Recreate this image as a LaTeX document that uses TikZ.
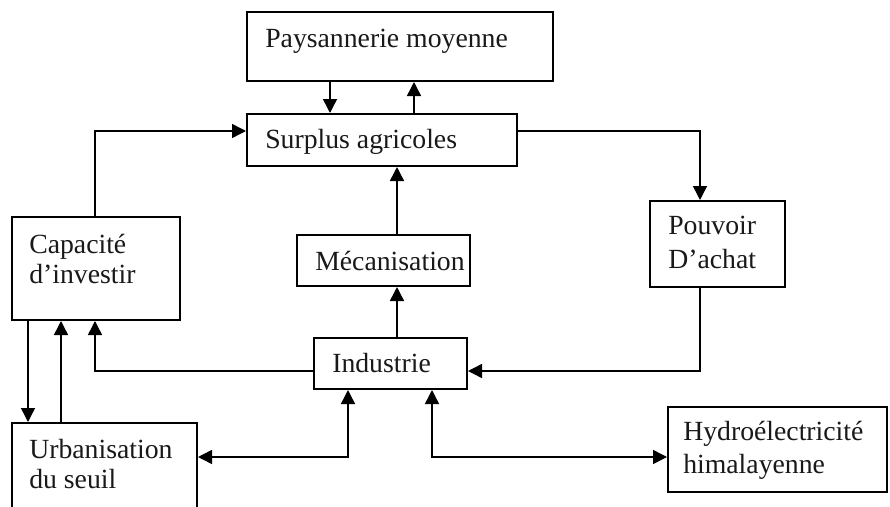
\documentclass[tikz,border=0pt]{standalone}
\usepackage{fontspec}
\setmainfont{Liberation Serif}
\usetikzlibrary{arrows.meta}
\begin{document}
\begin{tikzpicture}[x=0.75pt,y=-0.75pt,
  box/.style={draw, line width=1.5pt, inner sep=0pt, anchor=north west},
  lbl/.style={inner sep=0pt, anchor=base west, font=\fontsize{20.8}{24}\selectfont, text=black!90},
  conn/.style={line width=1.1pt},
  arr/.style={conn, -{Triangle[length=10.5pt,width=10.5pt]}},
  darr/.style={conn, {Triangle[length=10.5pt,width=10.5pt]}-{Triangle[length=10.5pt,width=10.5pt]}}]
\clip (0,0) rectangle (890,507);
\fill[white] (0,0) rectangle (890,507);
% boxes
\node[box, minimum width=229.5pt, minimum height=51.75pt] (pay) at (246,11) {};
\node[box, minimum width=202.5pt, minimum height=39pt] (sur) at (246,113) {};
\node[box, minimum width=126pt, minimum height=77.25pt] (cap) at (11,216) {};
\node[box, minimum width=129.75pt, minimum height=38.25pt] (mec) at (296,234) {};
\node[box, minimum width=114.75pt, minimum height=38.25pt] (ind) at (313,337) {};
\node[box, minimum width=101.25pt, minimum height=64.5pt] (pou) at (649,200) {};
\node[box, minimum width=138.75pt, minimum height=72pt] (urb) at (11,422) {};
\node[box, minimum width=164.25pt, minimum height=63.75pt] (hyd) at (667,406) {};
% texts
\node[lbl] (payT) at (265,47) {Paysannerie moyenne};
\node[lbl] (surT) at (265,148) {Surplus agricoles};
\node[lbl] (capT1) at (29,253) {Capacité};
\node[lbl] (capT2) at (29,283) {d’investir};
\node[lbl] (mecT) at (315,270) {Mécanisation};
\node[lbl] (indT) at (332,372) {Industrie};
\node[lbl] (pouT1) at (668,234) {Pouvoir};
\node[lbl] (pouT2) at (668,268) {D’achat};
\node[lbl] (urbT1) at (29,458) {Urbanisation};
\node[lbl] (urbT2) at (29,488) {du seuil};
\node[lbl] (hydT1) at (683,440) {Hydroélectricité};
\node[lbl] (hydT2) at (683,473) {himalayenne};
% helper coordinates
\coordinate (xa) at (330,0);
\coordinate (xb) at (414,0);
\coordinate (xc) at (95,0);
\coordinate (xp) at (700,0);
\coordinate (xm) at (397,0);
\coordinate (xd) at (28,0);
\coordinate (xu) at (61,0);
\coordinate (xi1) at (348,0);
\coordinate (xi2) at (432,0);
\coordinate (ya) at (0,131);
\coordinate (yi) at (0,371);
\coordinate (yu) at (0,457);
% connectors
\draw[arr] (xa |- pay.south) -- (xa |- sur.north);
\draw[arr] (xb |- sur.north) -- (xb |- pay.south);
\draw[arr] (xc |- cap.north) |- (ya -| sur.west);
\draw[arr] (ya -| sur.east) -| (xp |- pou.north);
\draw[arr] (xp |- pou.south) |- (yi -| ind.east);
\draw[arr] (xm |- ind.north) -- (xm |- mec.south);
\draw[arr] (xm |- mec.north) -- (xm |- sur.south);
\draw[arr] (yi -| ind.west) -| (xc |- cap.south);
\draw[arr] (xd |- cap.south) -- (xd |- urb.north);
\draw[arr] (xu |- urb.north) -- (xu |- cap.south);
\draw[darr] (yu -| urb.east) -| (xi1 |- ind.south);
\draw[darr] (xi2 |- ind.south) |- (yu -| hyd.west);
\end{tikzpicture}
\end{document}
